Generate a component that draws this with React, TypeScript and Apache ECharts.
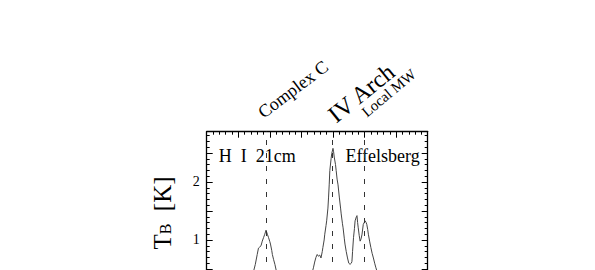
import React, { useEffect, useRef } from "react";
import * as echarts from "echarts";

// Velocity (km/s) and brightness temperature T_B (K) of the H I 21cm spectrum
const velocity = [
  -250, -240, -230, -220, -210, -200, -190, -185, -180, -176, -173, -170, -168, -166, -164, -162,
  -160, -158, -156, -154, -152, -150, -149, -147, -146, -144, -142, -140, -137, -133, -128, -122,
  -115, -108, -100, -94, -88, -84, -81, -79, -77, -75, -73, -71, -69, -67, -66, -64, -63, -61,
  -60, -58, -57, -56, -55, -53, -52, -50, -49, -48, -46, -45, -43.5, -42, -40, -38, -37, -35,
  -34, -32, -31, -29, -27, -25, -23, -21, -20, -19, -17.5, -16, -15, -13, -12, -11, -10, -8.5,
  -7, -5.5, -4, -2, -0.5, 1, 2.5, 3.5, 5, 6, 8, 10, 12, 14, 16, 18, 20, 23, 27, 32, 40, 50, 60,
  70, 80, 90, 100,
];
const brightness = [
  0.05, 0.02, 0.06, 0.03, 0.05, 0.08, 0.12, 0.2, 0.32, 0.45, 0.58, 0.75, 0.86, 0.88, 0.9, 0.98,
  1.04, 1.1, 1.17, 1.1, 1.04, 0.97, 0.93, 0.82, 0.75, 0.66, 0.58, 0.48, 0.38, 0.26, 0.16, 0.1,
  0.08, 0.1, 0.14, 0.2, 0.3, 0.4, 0.52, 0.62, 0.7, 0.75, 0.72, 0.74, 0.69, 0.8, 0.87, 1.0, 1.1, 1.25,
  1.33, 1.55, 1.74, 1.95, 2.2, 2.4, 2.49, 2.58, 2.52, 2.43, 2.3, 2.2, 2.05, 1.95, 1.74, 1.55, 1.45, 1.28,
  1.21, 1.02, 0.93, 0.8, 0.69, 0.6, 0.58, 0.6, 0.63, 0.8, 1.04, 1.2, 1.33, 1.4, 1.42, 1.3, 1.21, 1.08,
  0.98, 1.02, 1.1, 1.27, 1.3, 1.33, 1.3, 1.27, 1.18, 1.1, 0.98, 0.87, 0.77, 0.69, 0.6, 0.52, 0.45, 0.35, 0.22, 0.12, 0.06, 0.03, 0.05,
  0.02, 0.04, 0.03, 0.05,
];

// Components marked with dashed lines
const componentNames = ["Complex C", "IV Arch", "Local MW"];
const componentVelocity = [-156, -51, -1];

// Axis ranges
const xRange = [-250, 100];
const yRange = [-0.5, 2.867];
const yTickLabels = [1, 2];

const labelStyles = [
  { dx: -3, dy: -13.5, size: 18, angle: 37 },
  { dx: 3, dy: -9, size: 24, angle: 39 },
  { dx: 2.5, dy: -14.5, size: 15, angle: 40 },
];

const FONT = "'Liberation Serif', 'DejaVu Serif', serif";

export default function App() {
  const ref = useRef<HTMLDivElement>(null);

  useEffect(() => {
    if (!ref.current) return;
    const chart = echarts.init(ref.current, null, { renderer: "svg" });
    const data = velocity.map((v, i) => [v, brightness[i]]);

    const tickCommon = {
      axisLine: { show: true, onZero: false, lineStyle: { color: "#000", width: 1.3 } },
      axisTick: { show: true, inside: true, length: 6, lineStyle: { color: "#000", width: 1 } },
      minorTick: { show: true, splitNumber: 5, length: 3, lineStyle: { color: "#000", width: 1 } },
      splitLine: { show: false },
      minorSplitLine: { show: false },
    };

    chart.setOption({
      animation: false,
      backgroundColor: "#fff",
      grid: { left: 206.7, right: 167.3, top: 131.7, bottom: 73, containLabel: false },
      xAxis: [
        {
          type: "value",
          position: "top",
          min: xRange[0],
          max: xRange[1],
          interval: 50,
          axisLabel: { show: false },
          ...tickCommon,
        },
        {
          type: "value",
          position: "bottom",
          min: xRange[0],
          max: xRange[1],
          interval: 50,
          axisLabel: { show: false },
          ...tickCommon,
        },
      ],
      yAxis: [
        {
          type: "value",
          position: "left",
          min: yRange[0],
          max: yRange[1],
          interval: 0.5,
          axisLabel: {
            show: true,
            margin: 7,
            fontFamily: FONT,
            fontSize: 14,
            color: "#000",
            showMaxLabel: false,
            formatter: (v: number) => (yTickLabels.includes(Math.round(v * 1000) / 1000) ? String(v) : ""),
          },
          ...tickCommon,
        },
        {
          type: "value",
          position: "right",
          min: yRange[0],
          max: yRange[1],
          interval: 0.5,
          axisLabel: { show: false },
          ...tickCommon,
        },
      ],
      series: [
        {
          type: "line",
          data,
          xAxisIndex: 0,
          yAxisIndex: 0,
          showSymbol: false,
          symbol: "none",
          lineStyle: { color: "#444", width: 1 },
          silent: true,
          markLine: {
            silent: true,
            symbol: "none",
            label: { show: false },
            lineStyle: { color: "#333", width: 1, type: [5, 8] },
            data: componentVelocity.map((v) => ({ xAxis: v })),
          },
        },
      ],
    });

    const topY = chart.convertToPixel({ yAxisIndex: 0 }, yRange[1]) as number;
    const texts: any[] = componentNames.map((name, i) => {
      const s = labelStyles[i];
      const px = chart.convertToPixel({ xAxisIndex: 0 }, componentVelocity[i]) as number;
      return {
        type: "text",
        x: px + s.dx,
        y: topY + s.dy,
        rotation: (s.angle * Math.PI) / 180,
        style: {
          text: name,
          x: 0,
          y: s.size * 0.22,
          fontFamily: FONT,
          fontSize: s.size,
          fill: "#000",
          align: "left",
          verticalAlign: "bottom",
        },
        silent: true,
      };
    });

    const leftX = chart.convertToPixel({ xAxisIndex: 0 }, xRange[0]) as number;
    const rightX = chart.convertToPixel({ xAxisIndex: 0 }, xRange[1]) as number;

    texts.push(
      {
        type: "text",
        x: leftX + 12,
        y: topY + 33,
        style: { text: "H  I  21cm", fontFamily: FONT, fontSize: 18, fill: "#000", align: "left", verticalAlign: "bottom" },
        silent: true,
      },
      {
        type: "text",
        x: rightX - 8,
        y: topY + 33,
        style: { text: "Effelsberg", fontFamily: FONT, fontSize: 18, fill: "#000", align: "right", verticalAlign: "bottom" },
        silent: true,
      },
      {
        type: "text",
        x: 162,
        y: 213,
        rotation: Math.PI / 2,
        style: {
          text: "{t|T}{s|B}{t|  [K]}",
          fontFamily: FONT,
          fill: "#000",
          align: "center",
          verticalAlign: "middle",
          rich: {
            t: { fontFamily: FONT, fontSize: 25, fill: "#000" },
            s: { fontFamily: FONT, fontSize: 16, fill: "#000", padding: [7, 0, 0, 0] },
          },
        },
        silent: true,
      }
    );

    chart.setOption({ graphic: texts });

    return () => chart.dispose();
  }, []);

  return (
    <div style={{ position: "fixed", left: 0, top: 0, width: 595, height: 270, overflow: "hidden", background: "#fff" }}>
      <div ref={ref} style={{ width: 595, height: 400 }} />
    </div>
  );
}
